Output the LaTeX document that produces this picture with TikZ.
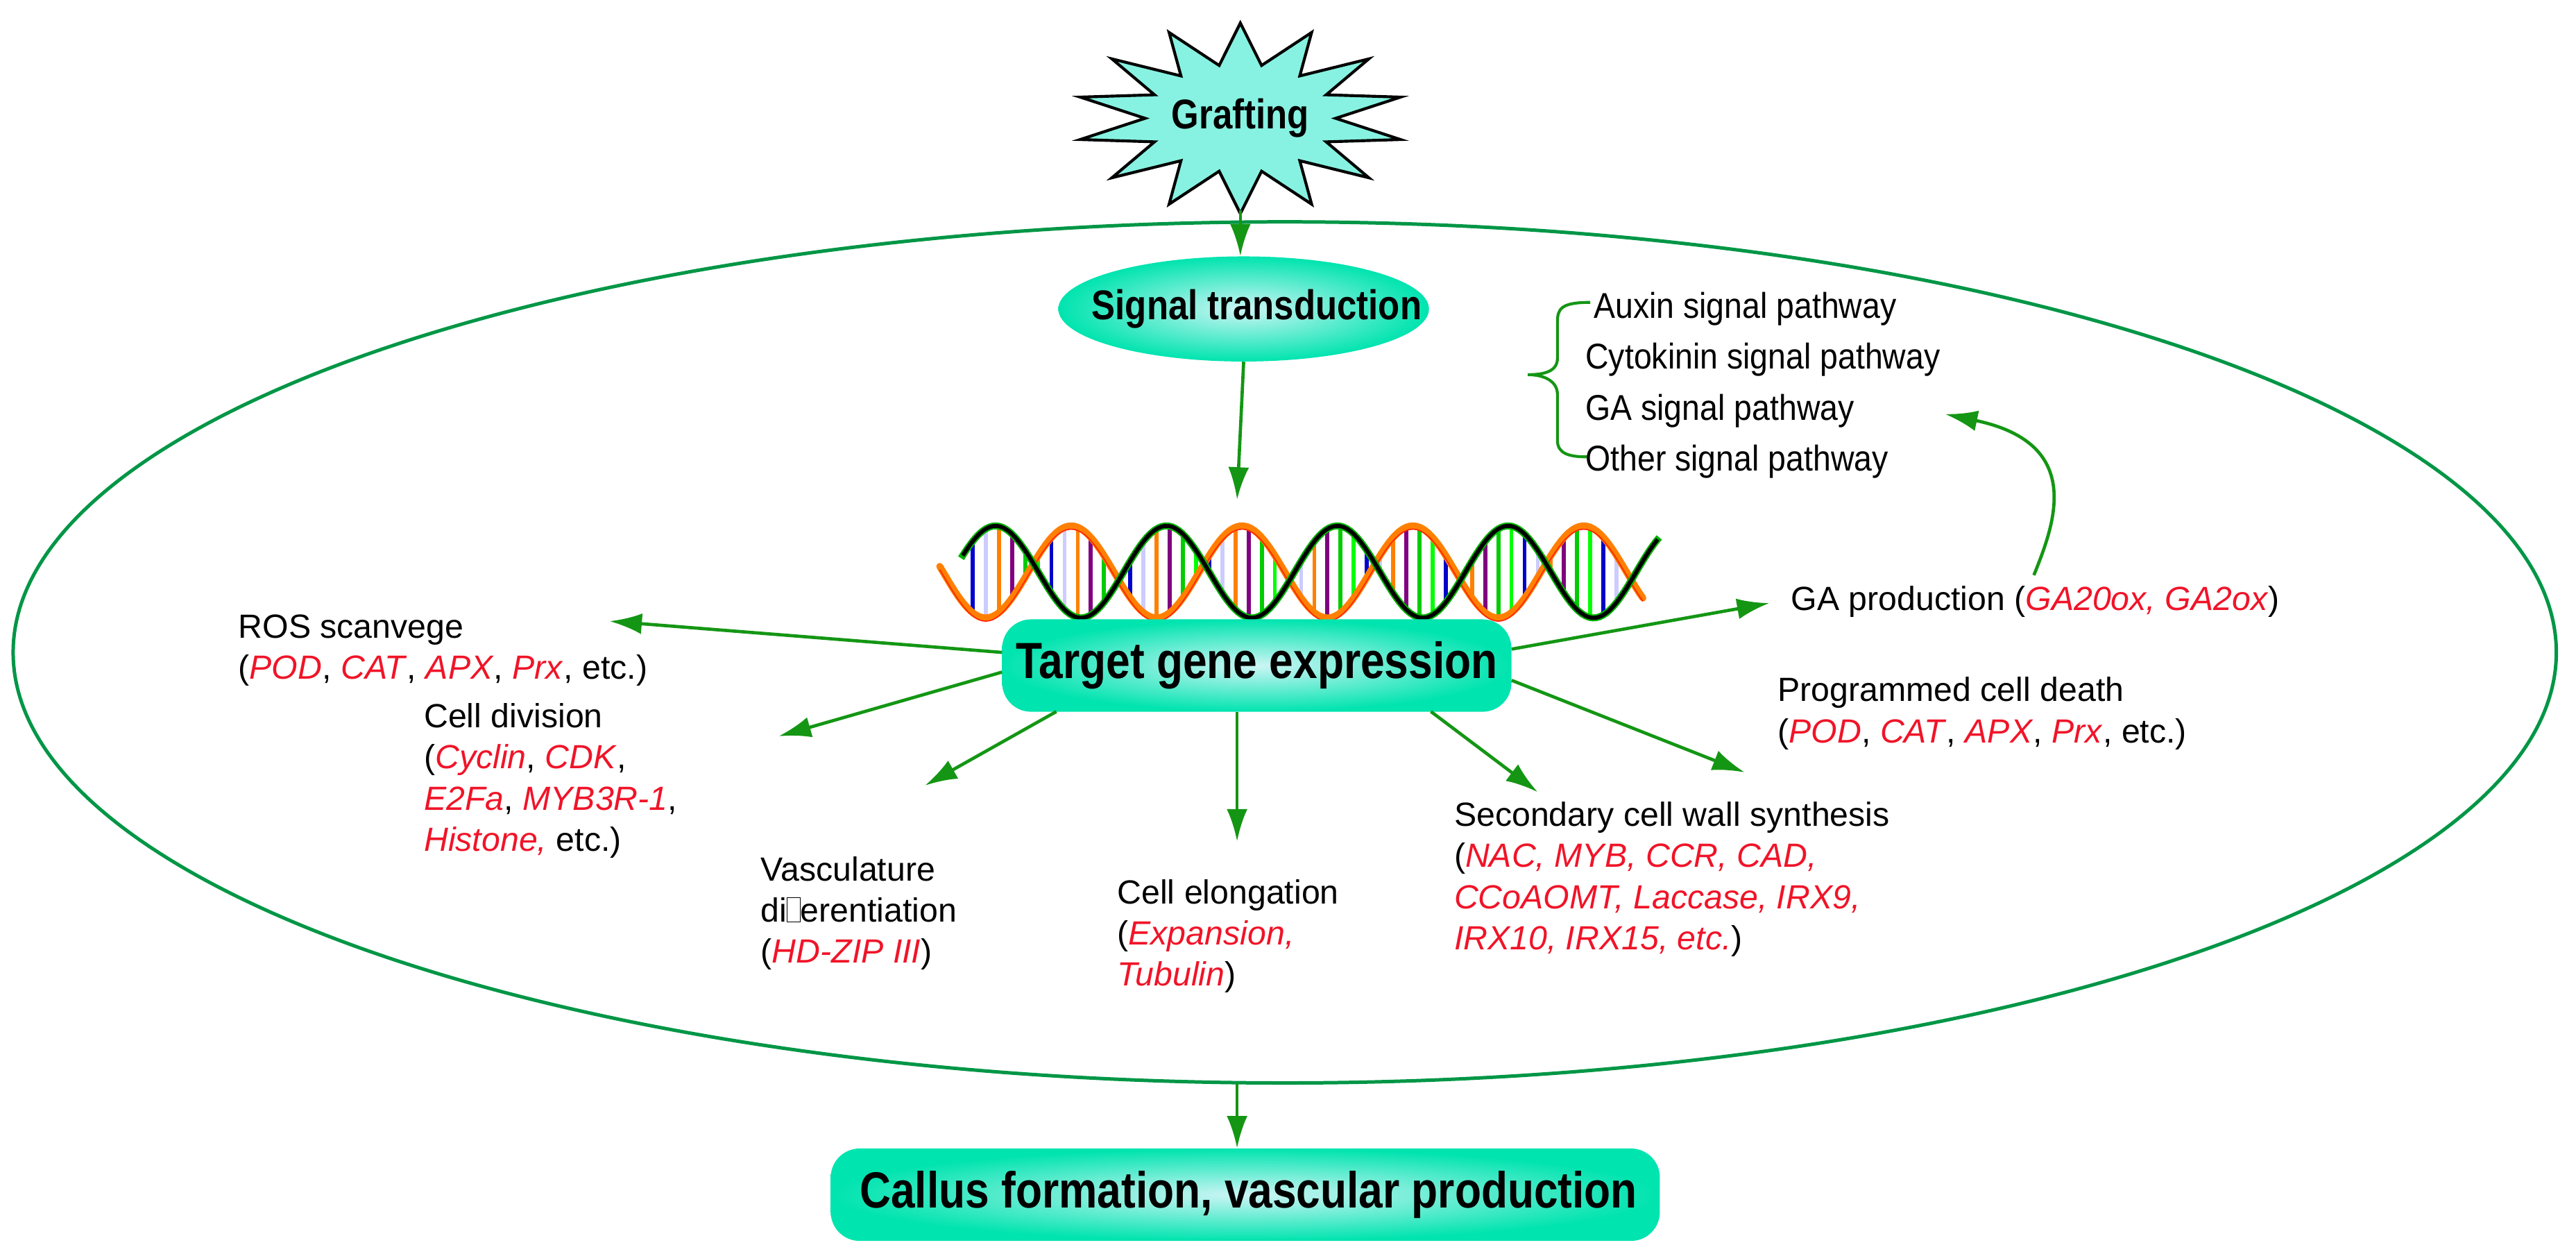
\documentclass[tikz,border=0pt]{standalone}
\usepackage{fontspec}
\setmainfont{Liberation Sans}
\usetikzlibrary{arrows.meta,shapes.geometric}
\definecolor{gred}{RGB}{240,20,40}
\definecolor{agreen}{RGB}{20,150,20}
\definecolor{egreen}{RGB}{0,150,70}
\definecolor{starfill}{RGB}{135,242,225}
\definecolor{tq}{RGB}{0,228,175}
\definecolor{tqin}{RGB}{205,245,245}
\newcommand\gn[1]{\textcolor{gred}{\textit{#1}}}
\newcommand\nrw[1]{\scalebox{0.85}[1]{#1}}
\newcommand\nrp[1]{\scalebox{0.9}[1]{#1}}
\newcommand\missing{{\setlength\fboxsep{0pt}\setlength\fboxrule{0.6pt}\framebox[0.4em]{\rule{0pt}{0.7em}}}}
\begin{document}
\begin{tikzpicture}[x={(0.05cm,0)},y={(0,-0.05cm)},
  arr/.style={draw=agreen,line width=2.8pt,-{Latex[length=28pt,width=18pt]}},
  title/.style={font=\fontsize{44}{52}\selectfont\bfseries},
  lab/.style={font=\fontsize{29}{35.5}\selectfont, anchor=north west, align=left, inner sep=0pt, text=black},
  path/.style={font=\fontsize{31}{36}\selectfont, anchor=west, inner sep=0pt},
  box/.style={rounded corners=25pt, shading=radial, inner color=tqin, outer color=tq}]
\path[use as bounding box] (0,0) rectangle (1568,763);
% cell
\draw[egreen,line width=3pt] (782,397) ellipse [x radius=774, y radius=262];
% star
\draw[fill=starfill,line width=2.5pt] plot[samples at={0,...,27}] ({755+ifthenelse(mod(\x,2)==0,100,58)*cos(90+\x*360/28)},{72-ifthenelse(mod(\x,2)==0,58,33)*sin(90+\x*360/28)}) -- cycle;
\node[title,font=\fontsize{36}{42}\selectfont\bfseries] (graft) at (755,72) {\nrw{Grafting}};
\coordinate (gbot) at (755,128);
% signal transduction
\node[ellipse, minimum width=321pt, minimum height=91pt, shading=radial, inner color=tqin, outer color=tq, inner sep=0pt] (sig) at (757,188) {};
\node[title,font=\fontsize{36}{42}\selectfont\bfseries] at (765,188) {\nrw{Signal transduction}};
\draw[arr] (gbot) -- (sig.north -| gbot);
% bracket
\draw[agreen,line width=2.5pt] (968,184) .. controls (950,184) and (948,188) .. (948,196) -- (948,218) .. controls (948,226) and (940,228) .. (930,228) .. controls (940,228) and (948,232) .. (948,240) -- (948,268) .. controls (948,276) and (955,278) .. (966,278);
\node[path] (aux) at (970,188) {\nrp{Auxin signal pathway}};
\node[path] (cyt) at (965,219) {\nrp{Cytokinin signal pathway}};
\node[path] (gasp) at (965,250) {\nrp{GA signal pathway}};
\node[path] (oth) at (965,281) {\nrp{Other signal pathway}};
% DNA
\coordinate (dnatop) at (753,304);
\draw[arr] (sig.south) -- (dnatop);
\foreach \x [count=\i] in {592,600,...,992} {
  \pgfmathtruncatemacro\k{mod(\i,6)}
  \ifcase\k \def\cc{green}\or \def\cc{blue!80!black}\or \def\cc{blue!20}\or \def\cc{orange}\or \def\cc{violet}\or \def\cc{green!80!black}\fi
  \draw[\cc,line width=3.5pt] (\x,{348-28*cos((\x-606)*3.4615)}) -- (\x,{348-28*cos((\x-652)*3.4615)});
}
\draw[orange,line width=6pt,line cap=round] plot[domain=572:1000,samples=200] (\x,{348-28*cos((\x-652)*3.4615)});
\draw[red!70!orange,line width=1pt] plot[domain=572:1000,samples=200] (\x,{350-28*cos((\x-652)*3.4615)});
\draw[green!70!black,line width=6pt] plot[domain=585:1010,samples=200] (\x,{348-28*cos((\x-606)*3.4615)});
\draw[black,line width=3.5pt] plot[domain=586:1009,samples=200] (\x,{348-28*cos((\x-606)*3.4615)});
% target
\node[box, minimum width=441pt, minimum height=80pt, inner sep=0pt] (tge) at (765,405) {};
\node[title] at (765,405) {\nrw{Target gene expression}};
% labels
\node[lab] (ros) at (145,374) {ROS scanvege\\(\gn{POD}, \gn{CAT}, \gn{APX}, \gn{Prx}, etc.)};
\node[lab] (div) at (258,428) {Cell division\\(\gn{Cyclin}, \gn{CDK},\\\gn{E2Fa}, \gn{MYB3R-1},\\\gn{Histone,} etc.)};
\node[lab] (vas) at (463,521) {Vasculature\\di\missing erentiation\\(\gn{HD-ZIP III})};
\node[lab] (elo) at (680,535) {Cell elongation\\(\gn{Expansion,}\\\gn{Tubulin})};
\node[lab] (sec) at (885,488) {Secondary cell wall synthesis\\(\gn{NAC, MYB, CCR, CAD,}\\\gn{CCoAOMT, Laccase, IRX9,}\\\gn{IRX10, IRX15, etc.})};
\node[lab] (pcd) at (1082,412) {Programmed cell death\\(\gn{POD}, \gn{CAT}, \gn{APX}, \gn{Prx}, etc.)};
\node[lab,anchor=west] (gap) at (1090,366) {GA production (\gn{GA20ox, GA2ox})};
% arrows from target
\coordinate (a1) at (371,378);
\coordinate (a2) at (474,448);
\coordinate (a3) at (563,478);
\coordinate (a4) at (753,512);
\coordinate (a5) at (936,482);
\coordinate (a6) at (1062,470);
\coordinate (a7) at (1077,367);
\draw[arr] (tge.west |- 0,397) -- (a1);
\draw[arr] (tge.west |- 0,409) -- (a2);
\draw[arr] (643,433) -- (a3);
\draw[arr] (tge.south -| a4) -- (a4);
\draw[arr] (871,433) -- (a5);
\draw[arr] (tge.east |- 0,414) -- (a6);
\draw[arr] (tge.east |- 0,395) -- (a7);
% GA feedback
\draw[arr] (1238,350) .. controls (1250,320) and (1270,270) .. (1184,252);
% bottom
\node[box, minimum width=718pt, minimum height=80pt, inner sep=0pt] (cal) at (758,727) {};
\node[title] at (760,727) {\nrw{Callus formation, vascular production}};
\draw[arr] (753,659) -- (cal.north -| 753,0);
\end{tikzpicture}
\end{document}
